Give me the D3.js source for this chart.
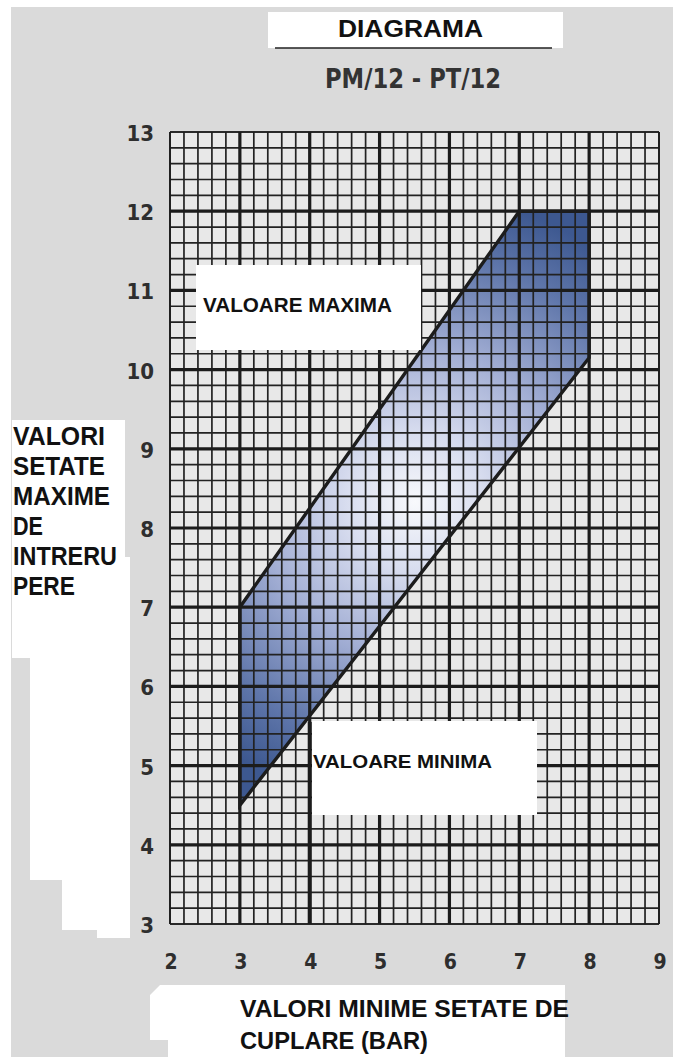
<!DOCTYPE html>
<html>
<head>
<meta charset="utf-8">
<script src="https://cdn.jsdelivr.net/npm/d3@7"></script>
<style>
  html, body { margin: 0; padding: 0; background: #fff; }
  svg { display: block; }
  .bold { font-family: "Liberation Sans", Arial, sans-serif; font-weight: bold; }
  .narrow { font-family: "DejaVu Sans Condensed", "DejaVu Sans", sans-serif; font-weight: bold; font-stretch: condensed; }
</style>
</head>
<body>
<div id="chart"></div>
<script>
// tick labels
const xTicks = [2, 3, 4, 5, 6, 7, 8, 9];
const yTicks = [3, 4, 5, 6, 7, 8, 9, 10, 11, 12, 13];
// band outline (min setting, max setting)
const bandX = [3, 7, 8, 8, 3];
const bandY = [7, 12, 12, 10.15, 4.5];
// texts
const titleText = 'DIAGRAMA';
const subTitle = 'PM/12 - PT/12';
const yLabelLines = ['VALORI', 'SETATE', 'MAXIME', 'DE', 'INTRERU', 'PERE'];
const xLabelLines = ['VALORI MINIME SETATE DE', 'CUPLARE (BAR)'];

const W = 673, H = 1057;
const svg = d3.select('#chart').append('svg').attr('width', W).attr('height', H);

const x = d3.scaleLinear().domain([2, 9]).range([170, 659]);
const y = d3.scaleLinear().domain([3, 13]).range([924, 132]);

// page background
svg.append('rect').attr('x', 11).attr('y', 7).attr('width', W - 11).attr('height', H - 7).attr('fill', '#dadada');

const defs = svg.append('defs');
const grad = defs.append('radialGradient')
  .attr('id', 'band').attr('gradientUnits', 'userSpaceOnUse')
  .attr('cx', 415).attr('cy', 502).attr('r', 310);
grad.append('stop').attr('offset', 0).attr('stop-color', '#f8f9fc');
grad.append('stop').attr('offset', 0.22).attr('stop-color', '#d8ddef');
grad.append('stop').attr('offset', 0.5).attr('stop-color', '#a2aed4');
grad.append('stop').attr('offset', 0.8).attr('stop-color', '#5f76aa');
grad.append('stop').attr('offset', 1).attr('stop-color', '#3d5890');

// paper inside the plot
svg.append('rect')
  .attr('x', x(2)).attr('y', y(13))
  .attr('width', x(9) - x(2)).attr('height', y(3) - y(13))
  .attr('fill', '#e8e8e8');

// shaded band
const band = bandX.map((v, i) => [x(v), y(bandY[i])]);
svg.append('path')
  .attr('d', d3.line()(band) + 'Z')
  .attr('fill', 'url(#band)');

// grid: 5 subdivisions per unit
const g = svg.append('g');
const minorX = d3.range(2, 9.001, 0.2);
const minorY = d3.range(3, 13.001, 0.2);
g.selectAll('.vx').data(minorX).join('line')
  .attr('x1', d => x(d)).attr('x2', d => x(d))
  .attr('y1', y(13)).attr('y2', y(3))
  .attr('stroke', '#222').attr('stroke-width', 1.7);
g.selectAll('.hy').data(minorY).join('line')
  .attr('y1', d => y(d)).attr('y2', d => y(d))
  .attr('x1', x(2)).attr('x2', x(9))
  .attr('stroke', '#222').attr('stroke-width', 1.7);
g.selectAll('.mx').data(xTicks).join('line')
  .attr('x1', d => x(d)).attr('x2', d => x(d))
  .attr('y1', y(13)).attr('y2', y(3))
  .attr('stroke', '#1c1c1c').attr('stroke-width', d => (d === 2 || d === 9) ? 1.7 : 3.2);
g.selectAll('.my').data(yTicks).join('line')
  .attr('y1', d => y(d)).attr('y2', d => y(d))
  .attr('x1', x(2)).attr('x2', x(9))
  .attr('stroke', '#1c1c1c').attr('stroke-width', d => (d === 3 || d === 13) ? 1.7 : 3.2);

// band outline
svg.append('path')
  .attr('d', d3.line()(band) + 'Z')
  .attr('fill', 'none').attr('stroke', '#1c1c1c').attr('stroke-width', 3.4)
  .attr('stroke-linejoin', 'miter');

// pointer line to the minimum label
svg.append('line')
  .attr('x1', x(4)).attr('x2', x(4)).attr('y1', y(5.55)).attr('y2', y(3))
  .attr('stroke', '#1c1c1c').attr('stroke-width', 4);

// tick labels
svg.selectAll('.xt').data(xTicks).join('text')
  .attr('class', 'narrow')
  .attr('x', d => x(d) + 1).attr('y', 969)
  .attr('text-anchor', 'middle').attr('font-size', 21).attr('fill', '#2e2e2e')
  .text(d => d);
svg.selectAll('.yt').data(yTicks).join('text')
  .attr('class', 'narrow')
  .attr('x', 154).attr('y', d => y(d) + 9)
  .attr('text-anchor', 'end').attr('font-size', 22).attr('fill', '#2e2e2e')
  .text(d => d);

// title box
svg.append('rect').attr('x', 268).attr('y', 12).attr('width', 295).attr('height', 36).attr('fill', '#fff');
svg.append('line').attr('x1', 275).attr('x2', 552).attr('y1', 48).attr('y2', 48)
  .attr('stroke', '#222').attr('stroke-width', 1.5);
svg.append('text').attr('class', 'bold')
  .attr('x', 338).attr('y', 37).attr('font-size', 23).attr('fill', '#111')
  .attr('textLength', 145).attr('lengthAdjust', 'spacingAndGlyphs').text(titleText);
svg.append('text').attr('class', 'narrow')
  .attr('x', 325).attr('y', 88).attr('font-size', 26).attr('fill', '#333')
  .attr('textLength', 176).attr('lengthAdjust', 'spacingAndGlyphs').text(subTitle);

// VALOARE MAXIMA box
svg.append('rect').attr('x', 196).attr('y', 265).attr('width', 225).attr('height', 85).attr('fill', '#fff');
svg.append('text').attr('class', 'bold')
  .attr('x', 203).attr('y', 312).attr('font-size', 20).attr('fill', '#111')
  .attr('textLength', 189).attr('lengthAdjust', 'spacingAndGlyphs').text('VALOARE MAXIMA');

// VALOARE MINIMA box
svg.append('rect').attr('x', 312).attr('y', 721).attr('width', 225).attr('height', 94).attr('fill', '#fff');
svg.append('text').attr('class', 'bold')
  .attr('x', 313).attr('y', 768).attr('font-size', 19).attr('fill', '#111')
  .attr('textLength', 179).attr('lengthAdjust', 'spacingAndGlyphs').text('VALOARE MINIMA');

// left label area
svg.append('path')
  .attr('d', 'M12,420 H125 V557 H130 V938 H97 V930 H62 V880 H30 V658 H12 Z')
  .attr('fill', '#fff');
const yLabelWidths = [92, 92, 97, 30, 104, 62];
svg.selectAll('.yl').data(yLabelLines).join('text')
  .attr('class', 'bold')
  .attr('x', 13).attr('y', (d, i) => 445 + i * 30)
  .attr('font-size', 25).attr('fill', '#111')
  .attr('textLength', (d, i) => yLabelWidths[i]).attr('lengthAdjust', 'spacingAndGlyphs')
  .text(d => d);

// bottom label area
svg.append('path')
  .attr('d', 'M160,985 H565 V1057 H168 V1040 H150 V995 Z')
  .attr('fill', '#fff');
const xLabelWidths = [329, 188];
svg.selectAll('.xl').data(xLabelLines).join('text')
  .attr('class', 'bold')
  .attr('x', 240).attr('y', (d, i) => 1017 + i * 32)
  .attr('font-size', 23).attr('fill', '#111')
  .attr('textLength', (d, i) => xLabelWidths[i]).attr('lengthAdjust', 'spacingAndGlyphs')
  .text(d => d);
</script>
</body>
</html>
